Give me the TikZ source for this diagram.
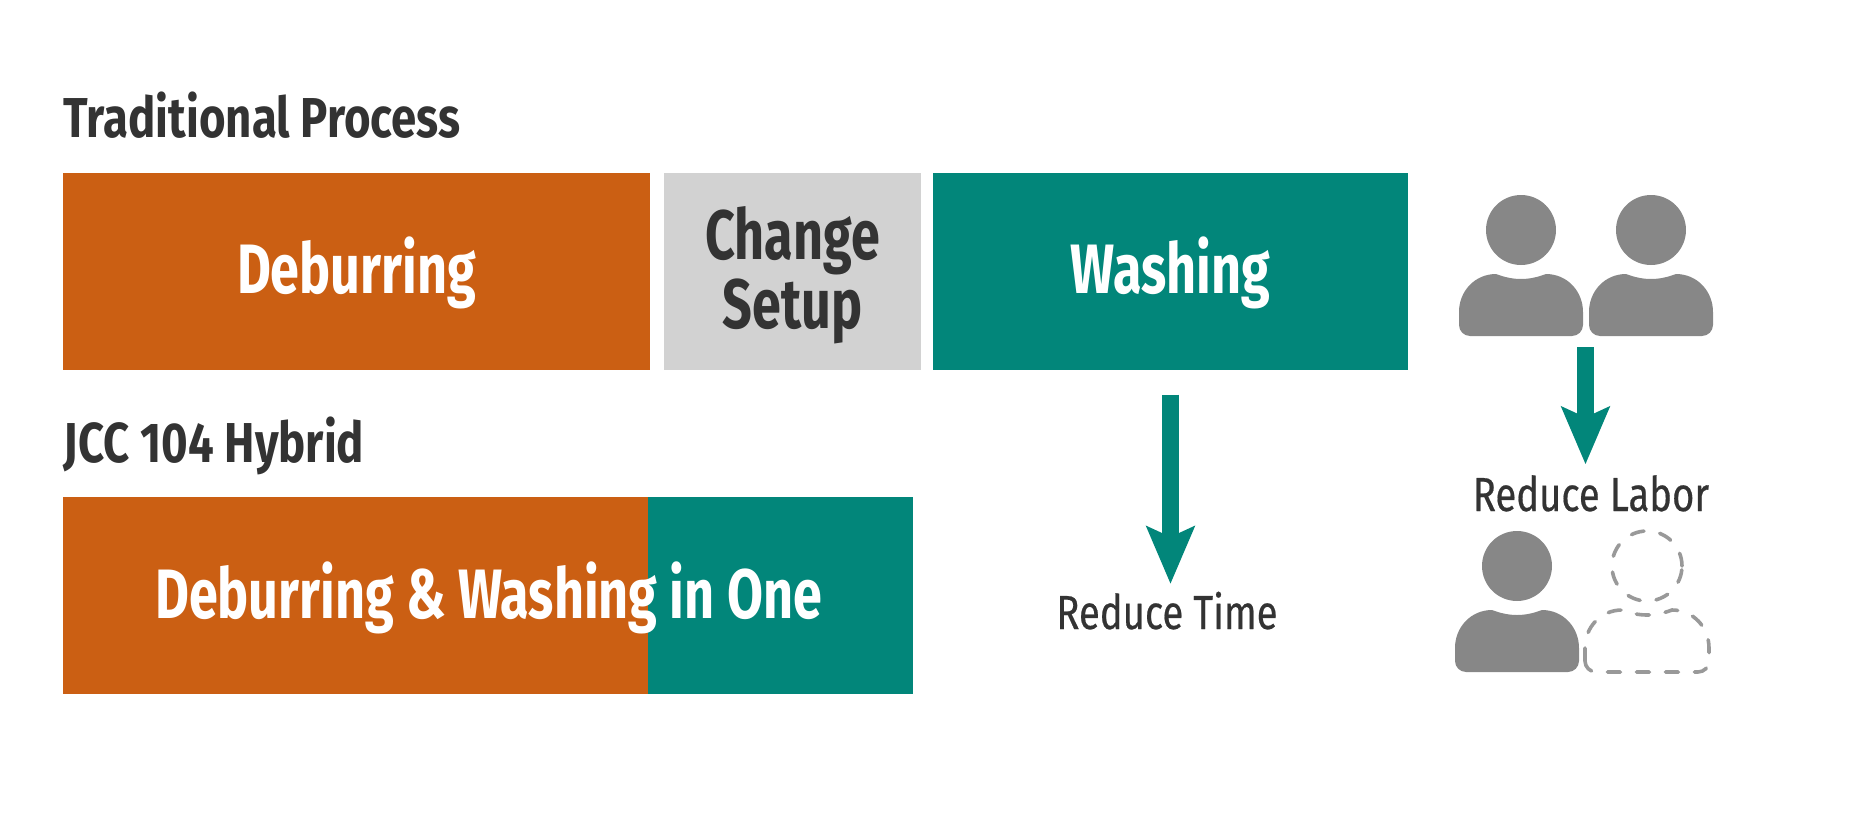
\documentclass[tikz,border=0pt]{standalone}
\usepackage{fontspec}
\setmainfont{Fira Sans}[FakeStretch=0.81]
\newfontfamily\barfont{Fira Sans}[FakeStretch=0.745]
\newfontfamily\resultfont{Fira Sans}[FakeStretch=0.8,FakeBold=0.4]
\usetikzlibrary{arrows.meta,positioning}
\definecolor{rust}{HTML}{CB5F13}
\definecolor{teal2}{HTML}{02867A}
\definecolor{lightbar}{HTML}{D2D2D2}
\definecolor{darktext}{HTML}{333333}
\definecolor{mangray}{HTML}{878787}
\definecolor{ghostgray}{HTML}{999999}
\tikzset{
  heading/.style={anchor=base west,inner sep=0,text=darktext,font=\fontsize{16}{19}\selectfont\bfseries},
  bar/.style={rectangle,inner sep=0,minimum height=1.97cm,text height=.5cm,text depth=.07cm,font=\barfont\fontsize{19.9}{19.6}\selectfont\bfseries},
  barlabel/.style={anchor=base,inner sep=0,text=white,font=\barfont\fontsize{19.9}{19.6}\selectfont\bfseries},
  result/.style={anchor=base,inner sep=0,text=darktext,font=\resultfont\fontsize{13.6}{16}\selectfont},
  bigarrow/.style={draw=teal2,line width=.17cm,-{Stealth[length=.57cm,width=.47cm,inset=.1cm]}},
  solidman/.style={fill=mangray},
  ghostman/.style={draw=ghostgray,line width=.036cm,dash pattern=on .13cm off .16cm,line cap=round},
  person/.pic={
    \path[pic actions] (0,0) circle (.35);
    \path[pic actions] (-.62,-.95) -- (-.62,-.82) .. controls (-.62,-.61) and (-.46,-.44) .. (-.25,-.44)
      .. controls (-.17,-.47) and (-.09,-.49) .. (0,-.49) .. controls (.09,-.49) and (.17,-.47) .. (.25,-.44)
      .. controls (.46,-.44) and (.62,-.61) .. (.62,-.82) -- (.62,-.95)
      .. controls (.62,-1.01) and (.57,-1.06) .. (.51,-1.06) -- (-.51,-1.06)
      .. controls (-.57,-1.06) and (-.62,-1.01) .. (-.62,-.95) -- cycle;
  }
}
\begin{document}
\begin{tikzpicture}
  \useasboundingbox (0,0) rectangle (18.75,-8.34);
  % top row
  \node[heading] (traditional) at (.63,-1.37) {Traditional Process};
  \node[bar,fill=rust,text=white,minimum width=5.87cm] (deburring) at (3.565,-2.715) {Deburring};
  \node[bar,fill=lightbar,minimum width=2.57cm] (setup) at (7.925,-2.715) {};
  \node[barlabel,anchor=center,text=darktext,align=center] (setuplabel) at (7.925,-2.755) {Change\\Setup};
  \node[bar,fill=teal2,text=white,minimum width=4.75cm] (washing) at (11.705,-2.715) {Washing};
  % bottom row
  \node[heading] (hybrid) at (.63,-4.62) {JCC 104 Hybrid};
  \node[bar,fill=rust,minimum width=5.85cm] (hybridleft) at (3.555,-5.95) {};
  \node[bar,fill=teal2,minimum width=2.645cm] (hybridright) at (7.8025,-5.95) {};
  \node[barlabel] (inone) at (4.885,-6.18) {Deburring \& Washing in One};
  % results
  \node[result] (reducetime) at (11.67,-6.29) {Reduce Time};
  \node[result] (reducelabor) at (15.91,-5.11) {Reduce Labor};
  \coordinate (twomen) at (15.855,-3.47);
  \draw[bigarrow,shorten <=.24cm,shorten >=.07cm] (washing.south) -- (washing.south |- reducetime.north);
  \draw[bigarrow,shorten >=.1cm] (twomen) -- (twomen |- reducelabor.north);
  % people
  \pic[solidman] (manone) at (15.21,-2.30) {person};
  \pic[solidman] (mantwo) at (16.51,-2.30) {person};
  \pic[solidman] (manthree) at (15.17,-5.66) {person};
  \pic[ghostman] (manghost) at (16.47,-5.66) {person};
\end{tikzpicture}
\end{document}
